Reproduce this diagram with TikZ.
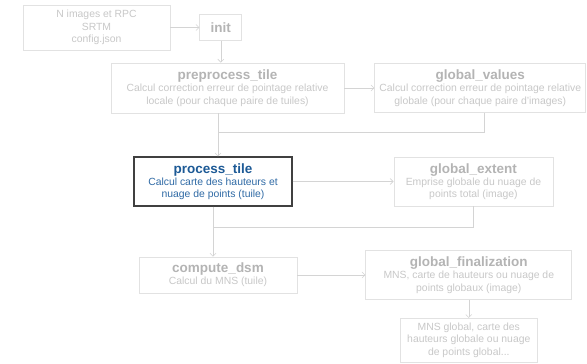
\documentclass[tikz,border=0pt]{standalone}
\usepackage{fontspec}
\setmainfont{Liberation Sans}
\usetikzlibrary{arrows.meta, positioning}

\definecolor{fadeline}{HTML}{E2E2E2}
\definecolor{fadearrow}{HTML}{D4D4D4}
\definecolor{fadetitle}{HTML}{B4B4B4}
\definecolor{fadebody}{HTML}{C8C8C8}
\definecolor{curtitle}{HTML}{1D5A96}
\definecolor{curbody}{HTML}{2F6AA5}

\newcommand{\steptitle}[2]{{\color{#1}\fontsize{13.5}{15}\selectfont\bfseries #2}}

\begin{document}
\begin{tikzpicture}[
    x=1pt, y=-1pt,
    block/.style={rectangle, draw=fadeline, fill=white, line width=0.8pt, align=center, inner sep=1pt, text=fadebody, font=\fontsize{10.4}{12.3}\selectfont},
    current/.style={block, draw=black!75, line width=1.1pt, text=curbody},
    arrow/.style={-{Straight Barb[length=3pt,width=6pt]}, draw=fadearrow, line width=0.6pt},
    link/.style={draw=fadearrow, line width=0.6pt}
]
    \useasboundingbox (0,0) rectangle (587,364);

    \node[block, minimum width=147pt, minimum height=45pt] (input) at (96.5,27.5) {N images et RPC\\ SRTM\\ config.json};
    \node[block, minimum width=42pt, minimum height=26pt, right=29pt of input] (init) {\steptitle{fadetitle}{init}};
    \node[block, minimum width=233pt, minimum height=50pt] (preprocess) at (227.5,88) {\steptitle{fadetitle}{preprocess\_tile}\\ Calcul correction erreur de pointage relative\\ locale (pour chaque paire de tuiles)};
    \node[block, minimum width=211pt, minimum height=49pt, right=30pt of preprocess] (gvalues) {\steptitle{fadetitle}{global\_values}\\ Calcul correction erreur de pointage relative\\ globale (pour chaque paire d'images)};
    \node[current, minimum width=158pt, minimum height=49pt] (process) at (213,181.5) {\steptitle{curtitle}{process\_tile}\\ Calcul carte des hauteurs et\\ nuage de points (tuile)};
    \node[block, minimum width=159pt, minimum height=49pt, right=101pt of process] (gextent) {\steptitle{fadetitle}{global\_extent}\\ Emprise globale du nuage de\\ points total (image)};
    \node[block, minimum width=158pt, minimum height=36pt] (dsm) at (218,275) {\steptitle{fadetitle}{compute\_dsm}\\ Calcul du MNS (tuile)};
    \node[block, minimum width=206pt, minimum height=49pt, right=68pt of dsm] (gfinal) {\steptitle{fadetitle}{global\_finalization}\\ MNS, carte de hauteurs ou nuage de\\ points globaux (image)};
    \node[block, minimum width=137pt, minimum height=44pt, below=18pt of gfinal] (output) {MNS global, carte des\\ hauteurs globale ou nuage\\ de points global...};

    \coordinate (join1) at (218,132);
    \coordinate (join2) at (213,227);

    \draw[arrow] (input) -- (init);
    \draw[arrow] (init.south) -- (init.south |- preprocess.north);
    \draw[arrow] (preprocess) -- (gvalues);
    \draw[arrow] ([xshift=-9.5pt]preprocess.south) -- ([xshift=-9.5pt]preprocess.south |- process.north);
    \draw[link] ([xshift=3.5pt]gvalues.south) |- (join1);
    \draw[arrow] (process) -- (gextent);
    \draw[arrow] (process.south) -- (process.south |- dsm.north);
    \draw[link] (gextent.south) |- (join2);
    \draw[arrow] (dsm) -- (gfinal);
    \draw[arrow] (gfinal) -- (output);
\end{tikzpicture}
\end{document}
